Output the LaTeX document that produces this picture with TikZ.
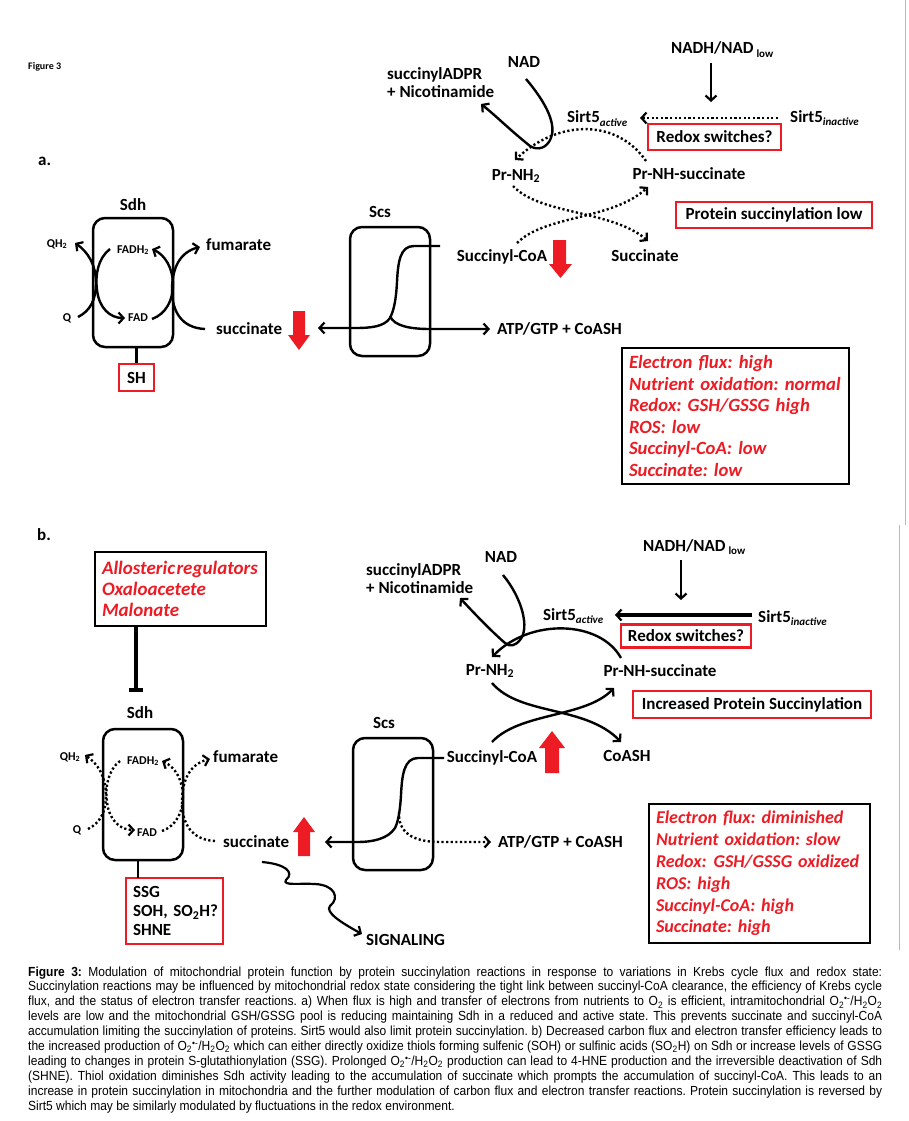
\documentclass[tikz,border=0pt]{standalone}
\usepackage{fontspec}
\setmainfont{Carlito}
\newfontfamily\capfont[FakeStretch=0.91]{Liberation Sans}
\usetikzlibrary{arrows.meta}
\definecolor{fred}{RGB}{237,28,36}
\newcommand{\lsub}[2][11]{\raisebox{-0.22em}{\fontsize{#1}{#1}\selectfont #2}}
\newcommand{\capline}[1]{\hbox to 854pt{#1}}
\frenchspacing
\begin{document}
\frenchspacing
\begin{tikzpicture}[x=1pt,y=-1pt,
  lbl/.style={font=\fontsize{17}{20}\selectfont\bfseries, inner sep=0pt},
  smlbl/.style={font=\fontsize{12}{14}\selectfont\bfseries, inner sep=0pt},
  ln/.style={line width=2.4pt},
  dotline/.style={line width=2.4pt, dash pattern=on 2.2pt off 2.4pt},
  arw/.style={-{Straight Barb[length=5pt,width=11pt,line width=2.2pt]}},
  redbox/.style={draw=fred, line width=2.5pt, inner sep=0pt, font=\fontsize{17}{20}\selectfont\bfseries},
  blkbox/.style={draw=black, line width=2.5pt, inner sep=0pt},
  enzbox/.style={draw=black, line width=2.5pt, rounded corners=12pt, inner sep=0pt, minimum width=80pt},
  infotxt/.style={text=fred, font=\fontsize{18.7}{21.5}\selectfont\bfseries\itshape, align=left, inner xsep=7pt, inner ysep=0pt},
  redarrow/.style={fill=fred}
]
\useasboundingbox (0,0) rectangle (908,1121);
\fill[white] (0,0) rectangle (908,1121);

% frame lines
\draw[gray!55, line width=1pt] (905,0) -- (905,525);
\draw[gray!55, line width=1pt] (899,525) -- (899,950);

%================ PANEL A ================
\node[font=\fontsize{10}{12}\selectfont\bfseries, anchor=west, inner sep=0pt] (fig3) at (28,67) {Figure 3};
\node[lbl, anchor=base west] (pa) at (38,165) {a.};

% top right
\node[lbl, anchor=base] (nadA) at (524,67.5) {NAD};
\node[lbl, anchor=base west] (nadhA) at (671,53.5) {NADH/NAD\,\lsub{low}};
\node[lbl, anchor=base west] (sadprA) at (387,80) {succinylADPR};
\node[lbl, anchor=base west] (nicA) at (387,98) {+ Nicotinamide};
\node[lbl, anchor=base west] (sirtactA) at (567,123) {Sirt5\lsub{\itshape active}};
\node[lbl, anchor=base west] (sirtinA) at (790,122) {Sirt5\lsub{\itshape inactive}};
\node[redbox, minimum width=133pt, minimum height=26pt] (redoxA) at (714.5,137) {Redox switches?};
\node[lbl, anchor=base] (prnhA) at (516,180) {Pr-NH\textsubscript{2}};
\node[lbl, anchor=base] (prsuccA) at (689,179) {Pr-NH-succinate};
\node[redbox, minimum width=196pt, minimum height=26pt] (pslowA) at (774,215) {Protein succinylation low};
\node[lbl, anchor=base] (scoaA) at (502,261) {Succinyl-CoA};
\node[lbl, anchor=base] (succtA) at (645,261) {Succinate};

\coordinate (nadAs) at (526,79);
\coordinate (sadprAt) at (481,104);
\coordinate (sirtinAw) at (778,118);
\coordinate (sirtactAe) at (640,118);
\draw[ln,arw] (nadAs) .. controls (548,105) and (556,125) .. (551,138) .. controls (547,148) and (538,151) .. (530,146) .. controls (510,130) and (495,115) .. (sadprAt);
\draw[ln,arw] (711,63) -- (711,102);
\draw[dotline,arw] (sirtinAw) -- (sirtactAe);
\draw[dotline,arw] (646,161) .. controls (618,120) and (560,118) .. (515,160);
\draw[dotline,arw] (513,186) .. controls (540,215) and (612,210) .. (648,241);
\draw[dotline,arw] (517,243) .. controls (545,215) and (612,220) .. (648,187);
\fill[redarrow] (553,240) -- (566,240) -- (566,264) -- (572,264) -- (560.5,278) -- (549,264) -- (553,264) -- cycle;

% Sdh a
\node[lbl, anchor=base] (sdhlA) at (133,210) {Sdh};
\node[enzbox, minimum height=129pt] (sdhA) at (133,282.5) {};
\node[smlbl, anchor=base] (qh2A) at (57,247) {QH\textsubscript{2}};
\node[smlbl, anchor=base] (fadh2A) at (133,253) {FADH\textsubscript{2}};
\node[smlbl, anchor=base] (qA) at (67,321) {Q};
\node[smlbl, anchor=base] (fadA) at (138,321) {FAD};
\node[lbl, anchor=base west] (fumA) at (206,250) {fumarate};
\node[lbl, anchor=base west] (succA) at (216,334) {succinate};
\node[redbox, minimum width=35pt, minimum height=27pt] (shA) at (136.5,377.5) {SH};
\draw[ln] (sdhA.south -| shA.north) -- (shA.north);
\draw[ln,arw] (78,317) .. controls (90,311) and (96,300) .. (96,283) .. controls (96,265) and (88,252) .. (75,243);
\draw[ln,arw] (110,249) .. controls (98,258) and (95,275) .. (97,290) .. controls (99,308) and (110,318) .. (125,318);
\draw[ln,arw] (205,329) .. controls (182,328) and (172,312) .. (172,290) .. controls (172,268) and (180,252) .. (200,247);
\draw[ln,arw] (152,319) .. controls (166,314) and (173,300) .. (173,285) .. controls (173,268) and (165,255) .. (152,249);
\fill[redarrow] (293,311) -- (305,311) -- (305,335) -- (310,335) -- (299,350) -- (288,335) -- (293,335) -- cycle;

% Scs a
\node[lbl, anchor=base] (scslA) at (380,217) {Scs};
\node[enzbox, minimum height=129pt] (scsA) at (390,291.5) {};
\node[lbl, anchor=base west] (atpA) at (497,334) {ATP/GTP + CoASH};
\draw[ln,arw] (440,246) -- (414,246) .. controls (400,246) and (398,262) .. (397,282) .. controls (396,300) and (394,310) .. (390,318) .. controls (384,327) and (370,328) .. (355,328) -- (318,328);
\draw[ln,arw] (390,316) .. controls (394,326) and (410,329) .. (430,329) -- (490,329);

% info a
\node[blkbox, infotxt, text width=213pt, minimum height=136pt] (infoA) at (735.5,416) {\mbox{Electron flux: high}\\\mbox{Nutrient oxidation: normal}\\\mbox{Redox: GSH/GSSG high}\\\mbox{ROS: low}\\\mbox{Succinyl-CoA: low}\\\mbox{Succinate: low}};

%================ PANEL B ================
\node[lbl, anchor=base west] (pb) at (37,540) {b.};
\node[blkbox, infotxt, text width=157pt, minimum height=74pt, font=\fontsize{19}{21}\selectfont\bfseries\itshape] (alloB) at (180.5,589) {\mbox{Allosteric\hspace{1.5pt}regulators}\\\mbox{Oxaloacetete}\\\mbox{Malonate}};
\draw[line width=4pt, -{Bar[width=14pt,line width=4pt]}] (alloB.south -| 136,0) -- (136,692);

% top right b
\node[lbl, anchor=base] (nadB) at (501,562) {NAD};
\node[lbl, anchor=base west] (nadhB) at (643,551) {NADH/NAD\,\lsub{low}};
\node[lbl, anchor=base west] (sadprB) at (366,575) {succinylADPR};
\node[lbl, anchor=base west] (nicB) at (366,593) {+ Nicotinamide};
\node[lbl, anchor=base west] (sirtactB) at (543,620) {Sirt5\lsub{\itshape active}};
\node[lbl, anchor=base west] (sirtinB) at (758,622) {Sirt5\lsub{\itshape inactive}};
\node[redbox, minimum width=130pt, minimum height=23pt] (redoxB) at (686,636) {Redox switches?};
\node[lbl, anchor=base] (prnhB) at (490,675) {Pr-NH\textsubscript{2}};
\node[lbl, anchor=base] (prsuccB) at (660,676) {Pr-NH-succinate};
\node[redbox, minimum width=238pt, minimum height=27pt] (incB) at (752,704.5) {Increased Protein Succinylation};
\node[lbl, anchor=base] (scoaB) at (492,762) {Succinyl-CoA};
\node[lbl, anchor=base] (coashB) at (627,761) {CoASH};

\coordinate (sirtinBw) at (752,615);
\coordinate (sirtactBe) at (615,615);
\draw[ln,arw] (503,575) .. controls (522,598) and (530,628) .. (520,640) .. controls (515,646) and (510,647) .. (505,643) .. controls (490,630) and (473,612) .. (460,598);
\draw[ln,arw] (681,560) -- (681,600);
\draw[line width=3.2pt,arw] (sirtinBw) -- (sirtactBe);
\draw[ln,arw] (621,658) .. controls (600,620) and (530,618) .. (492,657);
\draw[ln,arw] (492,683) .. controls (520,716) and (585,705) .. (621,742);
\draw[ln,arw] (492,742) .. controls (520,712) and (585,718) .. (614,688);
\fill[redarrow] (539,748) -- (552,731) -- (565,748) -- (559,748) -- (559,773) -- (545,773) -- (545,748) -- cycle;

% Sdh b
\node[lbl, anchor=base] (sdhlB) at (140,718) {Sdh};
\node[enzbox, minimum height=131pt] (sdhB) at (143,794.5) {};
\node[smlbl, anchor=base] (qh2B) at (70,760) {QH\textsubscript{2}};
\node[smlbl, anchor=base] (fadh2B) at (143,764) {FADH\textsubscript{2}};
\node[smlbl, anchor=base] (qB) at (77,833) {Q};
\node[smlbl, anchor=base] (fadB) at (147,836) {FAD};
\node[lbl, anchor=base west] (fumB) at (213,762) {fumarate};
\node[lbl, anchor=base west] (succB) at (223,847) {succinate};
\begin{scope}[shift={(10,512)}]
\draw[dotline,arw] (78,317) .. controls (90,311) and (96,300) .. (96,283) .. controls (96,265) and (88,252) .. (75,243);
\draw[dotline,arw] (110,249) .. controls (98,258) and (95,275) .. (97,290) .. controls (99,308) and (110,318) .. (125,318);
\draw[dotline,arw] (205,329) .. controls (182,328) and (172,312) .. (172,290) .. controls (172,268) and (180,252) .. (200,247);
\draw[dotline,arw] (152,319) .. controls (166,314) and (173,300) .. (173,285) .. controls (173,268) and (165,255) .. (152,249);
\end{scope}
\fill[redarrow] (293,832) -- (304,817) -- (315,832) -- (310,832) -- (310,856) -- (298,856) -- (298,832) -- cycle;
\node[blkbox, draw=fred, text width=83pt, minimum height=66pt, inner xsep=7pt, align=left, font=\fontsize{17}{19}\selectfont\bfseries] (ssgB) at (174.5,911) {\mbox{SSG}\\\mbox{SOH, SO\textsubscript{2}H?}\\\mbox{SHNE}};
\draw[ln] (sdhB.south -| 138,0) -- (138,878);
\node[lbl, anchor=base west] (sigB) at (366,945) {SIGNALING};
\draw[line width=2.2pt,arw] (262,862) .. controls (285,864) and (295,872) .. (286,880) .. controls (282,886) and (300,883) .. (315,884) .. controls (335,885) and (340,898) .. (330,906) .. controls (325,912) and (340,922) .. (362,934);

% Scs b
\node[lbl, anchor=base] (scslB) at (384,728) {Scs};
\node[enzbox, minimum height=132pt] (scsB) at (393,804) {};
\node[lbl, anchor=base west] (atpB) at (498,847) {ATP/GTP + CoASH};
\draw[ln,arw] (444,758) -- (418,758) .. controls (404,758) and (402,775) .. (401,795) .. controls (400,812) and (398,822) .. (395,828) .. controls (388,839) and (372,842) .. (358,842) -- (325,842);
\draw[dotline,arw] (399,812) .. controls (398,832) and (412,842) .. (440,842) -- (491,842);

% info b
\node[blkbox, infotxt, text width=207pt, minimum height=139pt, font=\fontsize{18}{21.8}\selectfont\bfseries\itshape] (infoB) at (759.5,873.5) {\mbox{Electron flux: diminished}\\\mbox{Nutrient oxidation: slow}\\\mbox{Redox:\hspace{7pt}GSH/GSSG oxidized}\\\mbox{ROS: high}\\\mbox{Succinyl-CoA: high}\\\mbox{Succinate: high}};

%================ CAPTION ================
\node[anchor=base west, inner sep=0pt] (caption) at (28,976) {\capfont\fontsize{13.2}{14.9}\selectfont\frenchspacing\vtop{\hsize=854pt
\capline{{\bfseries Figure 3:} Modulation of mitochondrial protein function by protein succinylation reactions in response to variations in Krebs cycle flux and redox state:}
\capline{Succinylation reactions may be influenced by mitochondrial redox state considering the tight link between succinyl-CoA clearance, the efficiency of Krebs cycle}
\capline{flux, and the status of electron transfer reactions. a) When flux is high and transfer of electrons from nutrients to O\textsubscript{2} is efficient, intramitochondrial O\textsubscript{2}\textsuperscript{•-}/H\textsubscript{2}O\textsubscript{2}}
\capline{levels are low and the mitochondrial GSH/GSSG pool is reducing maintaining Sdh in a reduced and active state. This prevents succinate and succinyl-CoA}
\capline{accumulation limiting the succinylation of proteins. Sirt5 would also limit protein succinylation. b) Decreased carbon flux and electron transfer efficiency leads to}
\capline{the increased production of O\textsubscript{2}\textsuperscript{•-}/H\textsubscript{2}O\textsubscript{2} which can either directly oxidize thiols forming sulfenic (SOH) or sulfinic acids (SO\textsubscript{2}H) on Sdh or increase levels of GSSG}
\capline{leading to changes in protein S-glutathionylation (SSG). Prolonged O\textsubscript{2}\textsuperscript{•-}/H\textsubscript{2}O\textsubscript{2} production can lead to 4-HNE production and the irreversible deactivation of Sdh}
\capline{(SHNE). Thiol oxidation diminishes Sdh activity leading to the accumulation of succinate which prompts the accumulation of succinyl-CoA. This leads to an}
\capline{increase in protein succinylation in mitochondria and the further modulation of carbon flux and electron transfer reactions. Protein succinylation is reversed by}
\hbox{Sirt5 which may be similarly modulated by fluctuations in the redox environment.}}};
\end{tikzpicture}
\end{document}
